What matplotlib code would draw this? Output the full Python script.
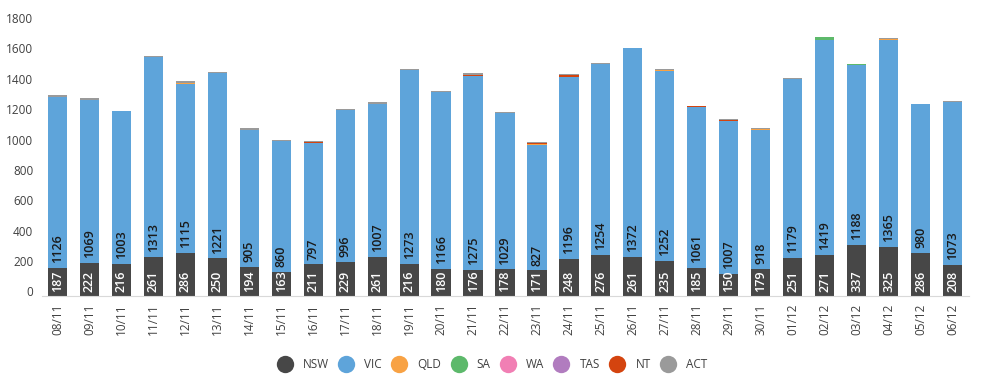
import numpy as np
import matplotlib
matplotlib.use("Agg")
import matplotlib.pyplot as plt
import matplotlib.transforms as mtransforms
from matplotlib.lines import Line2D

plt.rcParams["font.family"] = ["Open Sans", "DejaVu Sans"]

# dados
dates = ["08/11", "09/11", "10/11", "11/11", "12/11", "13/11", "14/11", "15/11", "16/11", "17/11",
         "18/11", "19/11", "20/11", "21/11", "22/11", "23/11", "24/11", "25/11", "26/11", "27/11",
         "28/11", "29/11", "30/11", "01/12", "02/12", "03/12", "04/12", "05/12", "06/12"]
nsw = [187, 222, 216, 261, 286, 250, 194, 163, 211, 229, 261, 216, 180, 176, 178, 171, 248, 276, 261, 235,
       185, 150, 179, 251, 271, 337, 325, 286, 208]
vic = [1126, 1069, 1003, 1313, 1115, 1221, 905, 860, 797, 996, 1007, 1273, 1166, 1275, 1029, 827, 1196, 1254,
       1372, 1252, 1061, 1007, 918, 1179, 1419, 1188, 1365, 980, 1073]
qld = [0, 3, 0, 0, 6, 0, 0, 0, 4, 0, 0, 0, 0, 0, 0, 5, 0, 0, 0, 5, 0, 0, 3, 0, 0, 0, 4, 0, 0]
sa  = [0, 0, 0, 0, 0, 0, 0, 0, 0, 0, 0, 0, 0, 0, 0, 0, 0, 0, 0, 0, 0, 0, 0, 0, 20, 4, 0, 0, 0]
wa  = [0] * 29
tas = [0] * 29
nt  = [0, 0, 0, 0, 0, 0, 0, 0, 8, 5, 0, 0, 0, 5, 0, 5, 12, 0, 0, 0, 6, 6, 0, 0, 0, 0, 0, 0, 0]
act = [12, 14, 5, 6, 14, 8, 8, 10, 4, 3, 14, 10, 8, 15, 8, 12, 10, 8, 4, 6, 4, 3, 8, 5, 0, 0, 6, 4, 4]

states = ["NSW", "VIC", "QLD", "SA", "WA", "TAS", "NT", "ACT"]
series = [nsw, vic, qld, sa, wa, tas, nt, act]
colors = ["#474747", "#5ea4da", "#f8a244", "#5db96b", "#f17fb4", "#b17cbf", "#d4440f", "#9a9a9a"]

fig = plt.figure(figsize=(9.91, 3.84), dpi=100)
ax = fig.add_axes([0.0419, 0.228, 0.9354, 0.712])

x = np.arange(len(dates))
bottom = np.zeros(len(dates))
for name, vals, c in zip(states, series, colors):
    vals = np.array(vals, dtype=float)
    ax.bar(x, vals, bottom=bottom, width=0.6, color=c, linewidth=0)
    if name in ("NSW", "VIC"):
        tc = "white" if name == "NSW" else "#1a1a1a"
        for xi, b, v in zip(x, bottom, vals):
            ax.annotate(f"{int(v)}", (xi, b), xytext=(0, 3.5), textcoords="offset points",
                        rotation=90, ha="center", va="bottom", fontsize=9,
                        fontweight="semibold", color=tc)
    bottom += vals

ax.set_xlim(-0.5, len(dates) - 0.5)
ax.set_ylim(0, 1800)
ax.set_yticks(range(0, 1801, 200))
ax.set_xticks(x)
ax.set_xticklabels(dates, rotation=90, fontsize=8.5, color="#404040")
ax.tick_params(axis="y", length=0, labelsize=8.5, labelcolor="#404040", pad=6)
ax.tick_params(axis="x", length=0, pad=5)
# rótulos do eixo y ficam um pouco acima no original
shift = mtransforms.ScaledTranslation(0, 0.05, fig.dpi_scale_trans)
for lab in ax.get_yticklabels():
    lab.set_transform(lab.get_transform() + shift)
for s in ["top", "right", "left"]:
    ax.spines[s].set_visible(False)
ax.spines["bottom"].set_color("#d9d9d9")

handles = [Line2D([], [], marker="o", linestyle="", markersize=12.5, color=c,
                  markeredgewidth=0) for c in colors]
fig.legend(handles, states, loc="center", bbox_to_anchor=(0.497, 0.05), ncol=8, frameon=False,
           fontsize=8.5, labelcolor="#404040", handletextpad=0.95, columnspacing=0.85,
           handlelength=1.2)

fig.savefig("out.png", dpi=100)
